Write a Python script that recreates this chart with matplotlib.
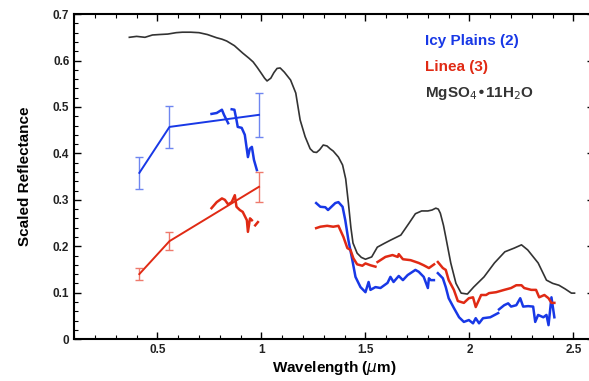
import matplotlib.pyplot as plt
import numpy as np
from matplotlib.ticker import MultipleLocator

nan = np.nan

# MgSO4.11H2O lab spectrum
mg_wl = [0.365, 0.40, 0.44, 0.476, 0.51, 0.55, 0.59, 0.62, 0.66, 0.70, 0.74, 0.785, 0.81, 0.833,
         0.87, 0.91, 0.94, 0.96, 0.98, 1.0, 1.015, 1.027, 1.045, 1.06, 1.075, 1.09, 1.11,
         1.14, 1.165, 1.186, 1.21, 1.234, 1.25, 1.265, 1.28, 1.297, 1.315, 1.33, 1.345,
         1.37, 1.39, 1.405, 1.418, 1.43, 1.44, 1.46, 1.48, 1.5, 1.53, 1.557, 1.59, 1.62,
         1.67, 1.71, 1.74, 1.77, 1.80, 1.82, 1.838, 1.85, 1.86, 1.875, 1.886, 1.91, 1.935,
         1.96, 1.99, 2.02, 2.07, 2.12, 2.17, 2.215, 2.25, 2.28, 2.33, 2.37, 2.40, 2.43,
         2.46, 2.49, 2.505]
mg_r = [0.650, 0.652, 0.650, 0.655, 0.656, 0.657, 0.660, 0.661, 0.661, 0.660, 0.656, 0.649, 0.646, 0.642,
        0.632, 0.616, 0.605, 0.597, 0.585, 0.572, 0.562, 0.556, 0.562, 0.574, 0.583, 0.584, 0.575,
        0.558, 0.530, 0.472, 0.436, 0.410, 0.403, 0.402, 0.408, 0.418, 0.416, 0.410, 0.405,
        0.392, 0.375, 0.345, 0.293, 0.240, 0.207, 0.185, 0.176, 0.172, 0.177, 0.198, 0.206, 0.213,
        0.224, 0.250, 0.270, 0.276, 0.276, 0.278, 0.282, 0.280, 0.271, 0.245, 0.220, 0.164, 0.120,
        0.099, 0.097, 0.112, 0.134, 0.164, 0.188, 0.196, 0.203, 0.192, 0.164, 0.127, 0.120, 0.116,
        0.108, 0.099, 0.099]

# Icy Plains (2)
icy_pts_wl = [0.413, 0.558, 0.988]
icy_pts_r = [0.358, 0.457, 0.483]
icy_pts_err = [0.035, 0.045, 0.048]
icy_vis_wl = [0.76, 0.785, 0.81, 0.82, 0.84, 0.848, 0.857, 0.87, 0.88, 0.886, 0.905, 0.92,
              0.935, 0.944, 0.954, 0.964, 0.978]
icy_vis_r = [0.485, 0.487, 0.494, 0.483, 0.465, nan, 0.495, 0.494, 0.472, 0.457, 0.455, 0.44,
             0.392, 0.41, 0.414, 0.386, 0.364]
icy_ir_wl = [1.263, 1.283, 1.307, 1.32, 1.355, 1.37, 1.39, 1.403, 1.418, 1.437, 1.452, 1.476,
             1.5, 1.515, 1.524, 1.548, 1.572, 1.606, 1.62, 1.635, 1.66, 1.68, 1.703, 1.74,
             1.756, 1.78, 1.8, 1.805, 1.814, 1.829, 1.84, 1.848, 1.872, 1.886, 1.9, 1.925,
             1.95, 1.973, 1.997, 2.017, 2.03, 2.046, 2.065, 2.1, 2.138, 2.14, 2.142, 2.167,
             2.186, 2.2, 2.225, 2.244, 2.258, 2.282, 2.306, 2.316, 2.33, 2.355, 2.37, 2.38,
             2.394, 2.408]
icy_ir_r = [0.293, 0.285, 0.284, 0.278, 0.293, 0.295, 0.285, 0.256, 0.213, 0.170, 0.134, 0.112,
            0.101, 0.123, 0.106, 0.112, 0.110, 0.121, 0.134, 0.123, 0.136, 0.127, 0.138, 0.149,
            0.145, 0.134, 0.110, 0.131, 0.127, 0.127, nan, 0.142, 0.131, 0.112, 0.088, 0.067,
            0.047, 0.037, 0.041, 0.034, 0.045, 0.034, 0.045, 0.047, 0.056, nan, 0.064, 0.073,
            0.077, 0.070, 0.073, 0.088, 0.070, 0.071, 0.070, 0.037, 0.052, 0.047, 0.052, 0.030,
            0.090, 0.047]

# Linea (3)
lin_pts_wl = [0.413, 0.558, 0.988]
lin_pts_r = [0.140, 0.211, 0.328]
lin_pts_err = [0.013, 0.020, 0.032]
lin_vis_wl = [0.76, 0.785, 0.81, 0.824, 0.84, 0.857, 0.872, 0.88, 0.896, 0.91, 0.93, 0.935,
              0.945, 0.954, 0.962, 0.97, 0.983]
lin_vis_r = [0.282, 0.295, 0.303, 0.300, 0.290, 0.295, 0.310, 0.285, 0.278, 0.274, 0.256, 0.231,
             0.260, 0.256, nan, 0.245, 0.252]
lin_ir_wl = [1.263, 1.283, 1.316, 1.345, 1.37, 1.394, 1.413, 1.428, 1.442, 1.46, 1.485, 1.5,
             1.524, 1.548, 1.553, 1.558, 1.596, 1.63, 1.655, 1.66, 1.68, 1.717, 1.756, 1.78,
             1.805, 1.83, 1.84, 1.848, 1.872, 1.886, 1.9, 1.925, 1.944, 1.973, 1.997, 2.017,
             2.03, 2.056, 2.08, 2.094, 2.128, 2.167, 2.2, 2.225, 2.25, 2.263, 2.297, 2.32,
             2.335, 2.36, 2.38, 2.394, 2.408]
lin_ir_r = [0.239, 0.242, 0.244, 0.242, 0.244, 0.220, 0.196, 0.192, 0.174, 0.161, 0.158, 0.163,
            0.159, 0.156, nan, 0.166, 0.177, 0.181, 0.177, 0.183, 0.172, 0.170, 0.164, 0.159,
            0.153, 0.161, nan, 0.166, 0.153, 0.149, 0.127, 0.106, 0.082, 0.078, 0.088, 0.090,
            0.069, 0.095, 0.095, 0.099, 0.101, 0.106, 0.110, 0.116, 0.116, 0.110, 0.106, 0.106,
            0.090, 0.095, 0.088, 0.078, 0.078]

blue = '#1838e6'
red = '#e02a14'
gray = '#333333'

plt.rcParams['font.family'] = ['Liberation Sans', 'DejaVu Sans']
fig = plt.figure(figsize=(5.89, 3.81), dpi=100)
# right spine lies just beyond the figure edge, as in the original
ax = fig.add_axes([0.126, 0.110, 0.883, 0.853])

ax.plot(mg_wl, mg_r, color=gray, linewidth=1.2)

ax.errorbar(icy_pts_wl, icy_pts_r, yerr=icy_pts_err, color=blue, linewidth=1.4,
            ecolor='#6f86f0', elinewidth=1.0, capsize=3, capthick=1.0)
ax.plot(icy_vis_wl, icy_vis_r, color=blue, linewidth=1.8)
ax.plot(icy_ir_wl, icy_ir_r, color=blue, linewidth=1.8)

ax.errorbar(lin_pts_wl, lin_pts_r, yerr=lin_pts_err, color=red, linewidth=1.4,
            ecolor='#ee7a6c', elinewidth=1.0, capsize=3, capthick=1.0)
ax.plot(lin_vis_wl, lin_vis_r, color=red, linewidth=1.8)
ax.plot(lin_ir_wl, lin_ir_r, color=red, linewidth=1.8)

ax.set_xlim(0.1, 2.6)
ax.set_ylim(0, 0.7)
ax.xaxis.set_minor_locator(MultipleLocator(0.1))
ax.yaxis.set_minor_locator(MultipleLocator(0.02))
ax.set_xticks([0.5, 1, 1.5, 2, 2.5])
ax.set_xticklabels(['0.5', '1', '1.5', '2', '2.5'])
ax.set_yticks([0, 0.1, 0.2, 0.3, 0.4, 0.5, 0.6, 0.7])
ax.set_yticklabels(['0', '0.1', '0.2', '0.3', '0.4', '0.5', '0.6', '0.7'])
ax.tick_params(which='both', direction='in', top=True, right=True, labelsize=8.5)
ax.tick_params(which='major', length=5, width=1)
ax.tick_params(which='minor', length=3, width=0.8)
for lab in ax.get_xticklabels() + ax.get_yticklabels():
    lab.set_fontweight('bold')
    lab.set_color('#222222')
for sp in ax.spines.values():
    sp.set_linewidth(1.5)

ax.set_xlabel('Wavelength ($\\mu$m)', fontsize=11, fontweight='bold', labelpad=2)
ax.set_ylabel('Scaled Reflectance', fontsize=11, fontweight='bold', labelpad=15)

ax.text(0.675, 0.905, 'Icy Plains (2)', transform=ax.transAxes, color=blue,
        fontsize=11, fontweight='bold')
ax.text(0.675, 0.825, 'Linea (3)', transform=ax.transAxes, color=red,
        fontsize=11, fontweight='bold')
ax.text(0.675, 0.745, 'MgSO$_4$•11H$_2$O', transform=ax.transAxes, color=gray,
        fontsize=11, fontweight='bold')

plt.savefig('out.png', dpi=100)
